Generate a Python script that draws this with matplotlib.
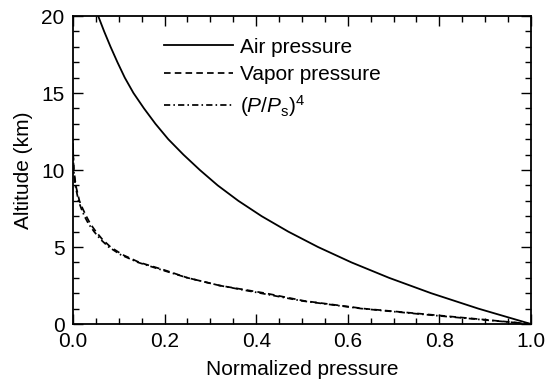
import matplotlib
matplotlib.use('Agg')
import matplotlib.pyplot as plt
from matplotlib.ticker import MultipleLocator

plt.rcParams['font.family'] = ['Liberation Sans', 'DejaVu Sans']
plt.rcParams['mathtext.fontset'] = 'custom'
plt.rcParams['mathtext.rm'] = 'Liberation Sans'
plt.rcParams['mathtext.it'] = 'Liberation Sans:italic'

# air pressure (normalized) vs altitude
air_alt = [0, 1, 2, 3, 4, 5, 6, 7, 8, 9, 10, 11, 12, 13, 14, 15, 16, 17, 18, 19, 20]
air_p = [1.0, 0.885, 0.782, 0.69, 0.608, 0.535, 0.47, 0.412, 0.361, 0.316, 0.277,
         0.241, 0.208, 0.18, 0.155, 0.132, 0.113, 0.097, 0.082, 0.068, 0.055]

# vapor pressure and (P/Ps)^4
vap_alt = [0, 0.5, 1, 1.5, 2, 2.5, 3, 3.5, 4, 4.5, 5, 5.5, 6, 6.5, 7, 7.5, 8, 9, 10, 11, 12]
vap_p = [1.0, 0.82, 0.635, 0.505, 0.42, 0.32, 0.25, 0.2, 0.145, 0.108, 0.082, 0.064,
         0.05, 0.038, 0.029, 0.021, 0.014, 0.006, 0.002, 0.0005, 0.0]
p4_p = [1.0, 0.81, 0.63, 0.5, 0.41, 0.32, 0.25, 0.195, 0.142, 0.104, 0.078, 0.06,
        0.046, 0.034, 0.025, 0.018, 0.012, 0.005, 0.0015, 0.0004, 0.0]

fig = plt.figure(figsize=(5.46, 3.82), dpi=100)
ax = fig.add_axes([0.1337, 0.1518, 0.8388, 0.8063])

ax.plot(air_p, air_alt, color='black', linewidth=1.3, label='Air pressure')
ax.plot(vap_p, vap_alt, color='black', linewidth=1.25, dashes=(3.8, 2.4), label='Vapor pressure')
ax.plot(p4_p, vap_alt, color='black', linewidth=1.25, dashes=(3.6, 1.8, 0.9, 1.8),
        label=r'$(\mathit{P}/\mathit{P}_{\rm s})^4$')

ax.set_xlim(0, 1)
ax.set_ylim(0, 20)
ax.xaxis.set_major_locator(MultipleLocator(0.2))
ax.xaxis.set_minor_locator(MultipleLocator(0.05))
ax.yaxis.set_major_locator(MultipleLocator(5))
ax.yaxis.set_minor_locator(MultipleLocator(1))
ax.set_xticklabels(['%.1f' % v for v in ax.get_xticks()])
ax.tick_params(which='both', direction='in', top=True, right=True, labelsize=15, width=1)
ax.tick_params(which='major', length=7, pad=6)
ax.tick_params(which='minor', length=4)
for s in ax.spines.values():
    s.set_linewidth(1.3)

ax.set_xlabel('Normalized pressure', fontsize=15, labelpad=6)
ax.set_ylabel('Altitude (km)', fontsize=15, labelpad=6)

ax.legend(loc='upper left', bbox_to_anchor=(0.199, 0.93), frameon=False, fontsize=15,
          handlelength=3.3, handletextpad=0.35, labelspacing=0.42, borderaxespad=0, borderpad=0)

fig.savefig('out.png', dpi=100)
